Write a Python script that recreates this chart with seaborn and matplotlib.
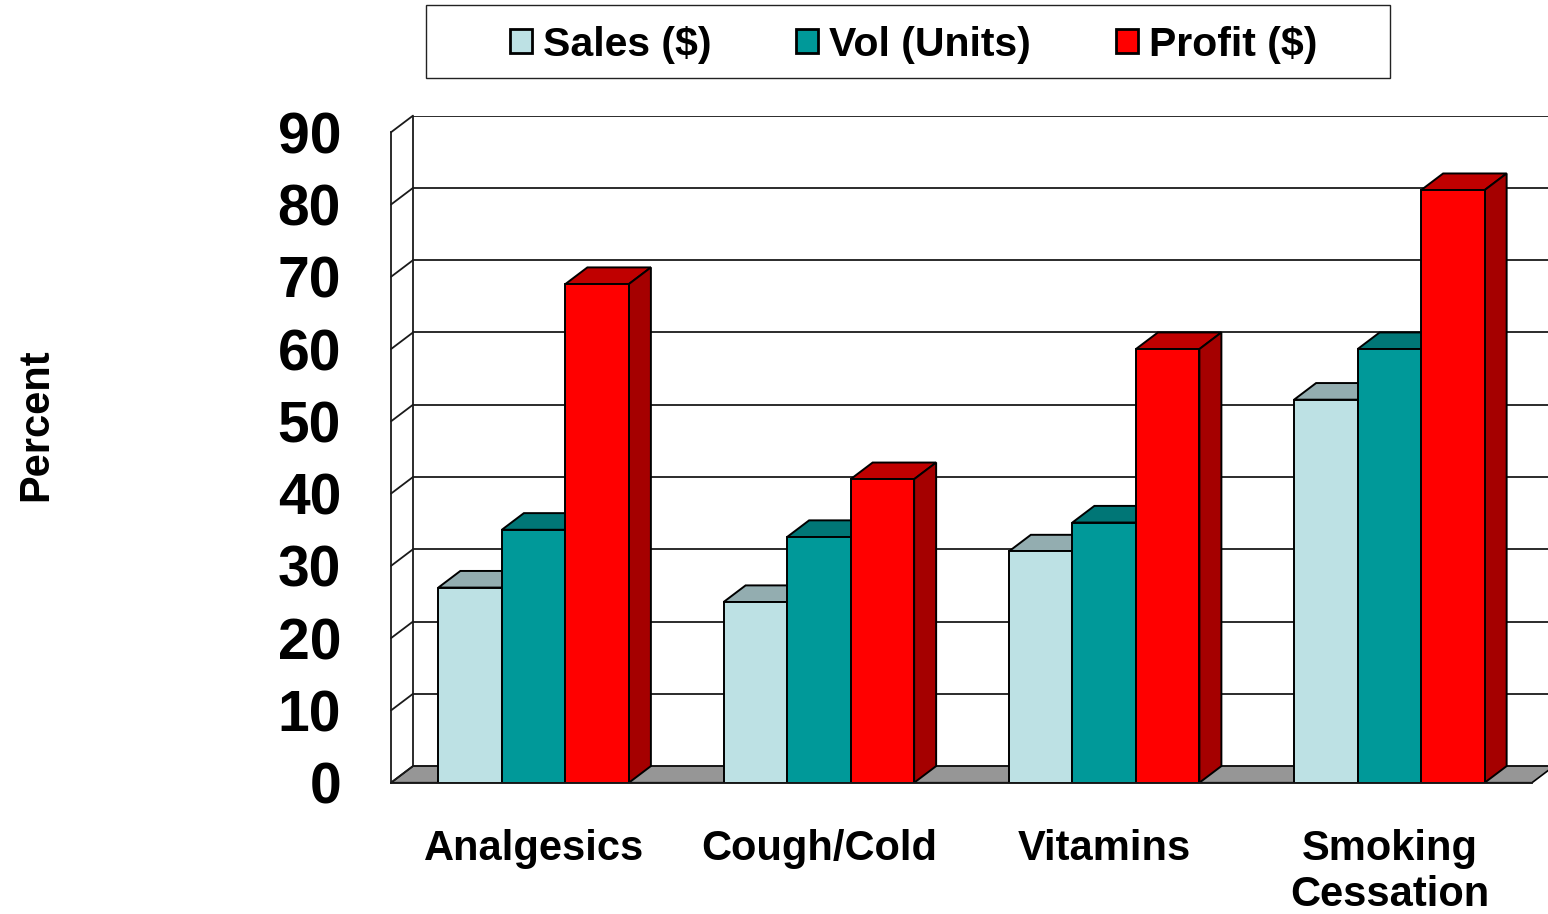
import numpy as np
import pandas as pd
import seaborn as sns
import matplotlib.pyplot as plt
from matplotlib.patches import Polygon, Patch, Rectangle

# ---- data -------------------------------------------------------------
categories = ["Analgesics", "Cough/Cold", "Vitamins", "Smoking\nCessation"]
series = ["Sales ($)", "Vol (Units)", "Profit ($)"]
sales = [27, 25, 32, 53]
volume = [35, 34, 36, 60]
profit = [69, 42, 60, 82]
y_ticks = list(range(0, 100, 10))

# ---- styling ----------------------------------------------------------
front_colors = ["#BDE1E4", "#009999", "#FF0000"]
top_colors = ["#93ADB0", "#007676", "#C00000"]
side_colors = ["#7E9A9C", "#006464", "#A50000"]
floor_color = "#969696"
DEPTH_X = 0.0771   # receding depth in category units
DEPTH_Y = 2.30     # receding depth in value units

sns.set_style("white")
plt.rcParams["font.family"] = ["Liberation Sans", "DejaVu Sans"]
plt.rcParams["font.weight"] = "bold"
for key in ["text.color", "axes.labelcolor", "xtick.labelcolor", "ytick.labelcolor"]:
    plt.rcParams[key] = "black"

df = pd.DataFrame({
    "category": np.repeat(categories, len(series)),
    "series": series * len(categories),
    "value": np.ravel(np.column_stack([sales, volume, profit])),
})

fig = plt.figure(figsize=(15.48, 9.14), dpi=100)
ax = fig.add_axes([391 / 1548, 131.3 / 914, 1157 / 1548, 92.3 * 7.227 / 914])

sns.barplot(data=df, x="category", y="value", hue="series", order=categories,
            hue_order=series, palette=front_colors, saturation=1, width=0.668,
            gap=0, edgecolor="black", linewidth=1.4, legend=False, ax=ax)

n = len(categories)
xl, xr = -0.5, n - 0.5
ax.set_xlim(xl, xl + 1157 / 285.25)
ax.set_ylim(0, 90 + DEPTH_Y)

# floor
floor = Polygon([(xl, 0), (xr, 0), (xr + DEPTH_X, DEPTH_Y), (xl + DEPTH_X, DEPTH_Y)],
                closed=True, facecolor=floor_color, edgecolor="black", lw=1.2,
                zorder=0.5, clip_on=False)
ax.add_patch(floor)

# back wall gridlines, left wall edge and connectors to the front axis
for v in y_ticks:
    ax.plot([xl + DEPTH_X, xr + DEPTH_X + 1], [v + DEPTH_Y, v + DEPTH_Y],
            color="#1a1a1a", lw=1.3, zorder=0.6)
    ax.plot([xl, xl + DEPTH_X], [v, v + DEPTH_Y], color="#1a1a1a", lw=1.3,
            zorder=0.6, clip_on=False)
ax.plot([xl + DEPTH_X, xl + DEPTH_X], [DEPTH_Y, 90 + DEPTH_Y], color="#1a1a1a",
        lw=1.3, zorder=0.6)

# 3-D tops and sides of every bar
for s, container in enumerate(ax.containers):
    for bar in container:
        x0 = bar.get_x()
        x1 = x0 + bar.get_width()
        h = bar.get_height()
        bar.set_zorder(3 + 2 * s)
        top = Polygon([(x0, h), (x0 + DEPTH_X, h + DEPTH_Y),
                       (x1 + DEPTH_X, h + DEPTH_Y), (x1, h)], closed=True,
                      facecolor=top_colors[s], edgecolor="black", lw=1.4,
                      zorder=2 + 2 * s)
        side = Polygon([(x1, 0), (x1 + DEPTH_X, DEPTH_Y),
                        (x1 + DEPTH_X, h + DEPTH_Y), (x1, h)], closed=True,
                       facecolor=side_colors[s], edgecolor="black", lw=1.4,
                       zorder=2 + 2 * s)
        ax.add_patch(top)
        ax.add_patch(side)

# axes and ticks
for name in ["top", "right"]:
    ax.spines[name].set_visible(False)
ax.spines["left"].set_bounds(0, 90)
ax.spines["bottom"].set_bounds(xl, xr)
for name in ["left", "bottom"]:
    ax.spines[name].set_color("#1a1a1a")
    ax.spines[name].set_linewidth(1.3)
    ax.spines[name].set_zorder(10)

ax.set_yticks(y_ticks)
ax.set_yticklabels([str(v) for v in y_ticks], fontsize=41, fontweight="bold",
                   color="black")
ax.tick_params(axis="y", length=12, width=1.1, color="#333333", pad=24)

ax.set_xticks(np.arange(xl, xr + 0.01, 1.0))
ax.set_xticklabels([])
ax.tick_params(axis="x", which="major", length=8.6, width=1.1, color="#333333")
ax.set_xticks(np.arange(n), minor=True)
ax.set_xticklabels(categories, minor=True, fontsize=30, fontweight="bold",
                   linespacing=1.2, color="black")
ax.tick_params(axis="x", which="minor", length=0, pad=33.5)
ax.set_xlabel("")
ax.set_ylabel("")

fig.text(36 / 1548, 1 - 425 / 914, "Percent", rotation=90, ha="center",
         va="center", fontsize=30, fontweight="bold", color="black")

# legend with its own frame
fig.patches.append(Rectangle((426 / 1548, 1 - 78 / 914), 964 / 1548, 73 / 914,
                             transform=fig.transFigure, facecolor="white",
                             edgecolor="#222222", lw=1.0))
handles = [Patch(facecolor=c, edgecolor="black", lw=2.0) for c in front_colors]
fig.legend(handles, series, ncol=3, loc="center",
           bbox_to_anchor=(913.5 / 1548, 1 - 44.5 / 914), frameon=False,
           prop={"size": 29.5, "weight": "bold"}, handlelength=0.54,
           handleheight=0.54, handletextpad=0.27, columnspacing=2.07)

fig.savefig("out.png", dpi=100)
